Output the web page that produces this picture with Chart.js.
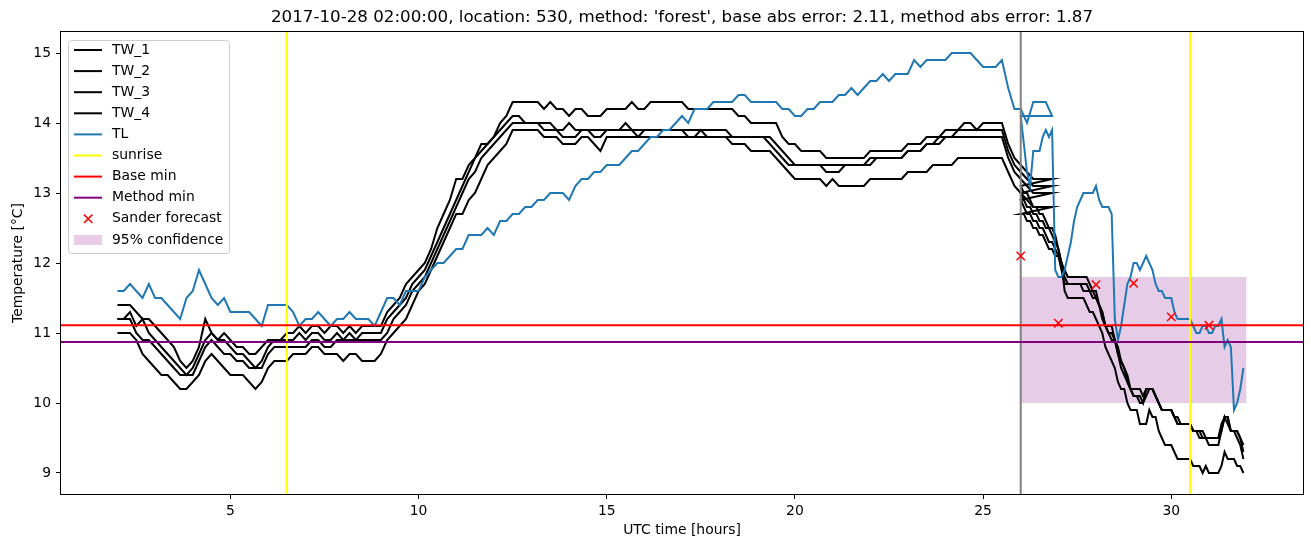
<!DOCTYPE html>
<html>
<head>
<meta charset="utf-8">
<script src="https://cdn.jsdelivr.net/npm/chart.js@4.4.0/dist/chart.umd.min.js"></script>
<style>
  html, body { margin: 0; padding: 0; background: #fff; }
  #wrap { width: 1311px; height: 547px; }
</style>
</head>
<body>
<div id="wrap"><canvas id="grafica" width="1311" height="547"></canvas></div>
<script>
const titleText = "2017-10-28 02:00:00, location: 530, method: 'forest', base abs error: 2.11, method abs error: 1.87";

const xTicks = [5, 10, 15, 20, 25, 30];
const yTicks = [9, 10, 11, 12, 13, 14, 15];
const xRange = [0.5, 33.5];
const yRange = [8.7, 15.3];

// first pass 02:00 .. 26:50 every 10 min, second pass (repeated hour) 26:00 .. 31:55 every 5 min
const firstStart = 2, firstStep = 1 / 6;
const secondStart = 26, secondStep = 1 / 12;

const tlA = [
  11.6, 11.6, 11.7, 11.6, 11.5, 11.7, 11.5, 11.5, 11.4, 11.3,
  11.2, 11.5, 11.6, 11.9, 11.7, 11.5, 11.4, 11.5, 11.3, 11.3,
  11.3, 11.3, 11.2, 11.1, 11.4, 11.4, 11.4, 11.4, 11.3, 11.1,
  11.2, 11.2, 11.3, 11.2, 11.1, 11.2, 11.2, 11.3, 11.2, 11.2,
  11.2, 11.1, 11.3, 11.5, 11.5, 11.4, 11.6, 11.6, 11.6, 11.8,
  11.9, 12.0, 12.0, 12.1, 12.2, 12.2, 12.4, 12.4, 12.4, 12.5,
  12.4, 12.6, 12.6, 12.7, 12.7, 12.8, 12.8, 12.9, 12.9, 13.0,
  13.0, 13.0, 12.9, 13.1, 13.2, 13.2, 13.3, 13.3, 13.4, 13.4,
  13.4, 13.5, 13.6, 13.6, 13.7, 13.8, 13.8, 13.9, 13.9, 14.0,
  14.1, 14.0, 14.2, 14.2, 14.2, 14.3, 14.3, 14.3, 14.3, 14.4,
  14.4, 14.3, 14.3, 14.3, 14.3, 14.3, 14.2, 14.2, 14.1, 14.1,
  14.2, 14.2, 14.3, 14.3, 14.3, 14.4, 14.4, 14.5, 14.4, 14.5,
  14.6, 14.6, 14.7, 14.6, 14.7, 14.7, 14.7, 14.9, 14.8, 14.9,
  14.9, 14.9, 14.9, 15.0, 15.0, 15.0, 15.0, 14.9, 14.8, 14.8,
  14.8, 14.9, 14.5, 14.2, 14.2, 14.0, 14.3, 14.3, 14.3, 14.1
];
const tlB = [
  14.1, 13.7, 13.3, 13.1, 13.6, 13.6, 13.6, 13.8, 13.9, 13.8, 13.9, 11.9,
  11.8, 11.8, 11.9, 12.1, 12.3, 12.6, 12.8, 12.9, 13.0, 13.0, 13.0, 13.0,
  13.1, 12.9, 12.8, 12.8, 12.8, 12.7, 11.2, 10.9, 11.1, 11.4, 11.7, 11.8,
  12.0, 12.0, 11.9, 12.0, 12.1, 12.0, 11.9, 11.7, 11.6, 11.6, 11.5, 11.5,
  11.5, 11.3, 11.2, 11.2, 11.2, 11.2, 11.2, 11.1, 11.0, 11.0, 11.1, 11.1,
  11.0, 11.0, 11.1, 11.1, 11.2, 10.8, 10.9, 10.8, 9.9, 10.0, 10.2, 10.5
];

const tw1A = [
  11.4, 11.4, 11.4, 11.3, 11.2, 11.2, 11.1, 11.0, 10.9, 10.8,
  10.6, 10.5, 10.6, 10.8, 11.2, 11.0, 10.9, 11.0, 10.9, 10.8,
  10.8, 10.7, 10.7, 10.8, 10.9, 10.9, 10.9, 11.0, 11.0, 11.1,
  11.0, 11.1, 11.1, 11.0, 11.1, 11.1, 11.0, 11.1, 11.0, 11.1,
  11.1, 11.1, 11.1, 11.3, 11.4, 11.5, 11.7, 11.8, 11.9, 12.0,
  12.2, 12.5, 12.7, 12.9, 13.2, 13.2, 13.4, 13.5, 13.7, 13.7,
  13.8, 14.0, 14.1, 14.3, 14.3, 14.3, 14.3, 14.3, 14.2, 14.3,
  14.2, 14.2, 14.1, 14.2, 14.2, 14.1, 14.1, 14.1, 14.2, 14.2,
  14.2, 14.2, 14.3, 14.2, 14.2, 14.3, 14.3, 14.3, 14.3, 14.3,
  14.3, 14.2, 14.2, 14.2, 14.2, 14.2, 14.2, 14.2, 14.2, 14.1,
  14.1, 14.0, 14.0, 14.0, 14.0, 14.0, 13.8, 13.7, 13.7, 13.6,
  13.6, 13.6, 13.6, 13.5, 13.5, 13.5, 13.5, 13.5, 13.5, 13.5,
  13.6, 13.6, 13.6, 13.6, 13.6, 13.6, 13.7, 13.7, 13.7, 13.8,
  13.8, 13.8, 13.9, 13.9, 13.9, 14.0, 14.0, 13.9, 14.0, 14.0,
  14.0, 14.0, 13.7, 13.5, 13.4, 13.3, 13.2, 13.2, 13.2, 13.2
];
const tw2A = [
  11.2, 11.2, 11.3, 11.1, 11.2, 11.0, 10.9, 10.8, 10.7, 10.6,
  10.5, 10.4, 10.5, 10.7, 10.9, 11.0, 10.9, 10.9, 10.8, 10.7,
  10.7, 10.6, 10.5, 10.6, 10.8, 10.9, 10.9, 10.9, 10.9, 11.0,
  10.9, 11.0, 11.0, 10.9, 10.9, 11.0, 10.9, 11.0, 10.9, 11.0,
  11.0, 11.0, 11.0, 11.2, 11.3, 11.4, 11.5, 11.7, 11.8, 11.9,
  12.1, 12.3, 12.5, 12.7, 12.9, 13.1, 13.3, 13.5, 13.6, 13.7,
  13.8, 13.9, 14.0, 14.1, 14.1, 14.0, 14.0, 14.0, 14.0, 14.0,
  13.9, 13.9, 14.0, 13.9, 13.9, 13.9, 13.9, 13.9, 13.9, 13.9,
  13.9, 14.0, 13.9, 13.9, 13.9, 13.9, 13.9, 13.9, 13.9, 13.9,
  13.9, 13.9, 13.9, 13.9, 13.9, 13.9, 13.9, 13.9, 13.8, 13.8,
  13.8, 13.8, 13.8, 13.8, 13.8, 13.7, 13.6, 13.5, 13.4, 13.4,
  13.4, 13.4, 13.4, 13.4, 13.4, 13.4, 13.4, 13.4, 13.4, 13.4,
  13.5, 13.5, 13.5, 13.5, 13.5, 13.5, 13.6, 13.6, 13.6, 13.7,
  13.7, 13.8, 13.8, 13.8, 13.9, 13.9, 13.9, 13.9, 13.9, 13.9,
  13.9, 13.9, 13.6, 13.4, 13.3, 13.2, 13.1, 13.1, 13.1, 13.1
];
const tw3A = [
  11.2, 11.2, 11.2, 11.0, 10.9, 10.9, 10.8, 10.7, 10.6, 10.5,
  10.4, 10.4, 10.4, 10.6, 10.8, 10.9, 10.8, 10.7, 10.7, 10.6,
  10.6, 10.5, 10.5, 10.5, 10.7, 10.8, 10.8, 10.8, 10.8, 10.8,
  10.8, 10.9, 10.9, 10.8, 10.8, 10.9, 10.9, 10.9, 10.9, 10.9,
  10.9, 10.9, 10.9, 11.0, 11.2, 11.3, 11.4, 11.6, 11.7, 11.8,
  12.0, 12.2, 12.4, 12.6, 12.8, 13.0, 13.2, 13.3, 13.5, 13.6,
  13.7, 13.8, 13.9, 14.0, 14.0, 14.0, 14.0, 14.0, 13.9, 13.9,
  13.9, 13.8, 13.8, 13.8, 13.9, 13.9, 13.8, 13.8, 13.9, 13.9,
  13.9, 13.9, 13.9, 13.8, 13.9, 13.9, 13.9, 13.9, 13.9, 13.9,
  13.9, 13.8, 13.8, 13.9, 13.8, 13.8, 13.8, 13.8, 13.8, 13.8,
  13.8, 13.8, 13.8, 13.8, 13.7, 13.6, 13.5, 13.4, 13.4, 13.4,
  13.4, 13.4, 13.4, 13.3, 13.3, 13.3, 13.4, 13.4, 13.4, 13.4,
  13.4, 13.5, 13.5, 13.5, 13.5, 13.5, 13.6, 13.6, 13.6, 13.7,
  13.7, 13.7, 13.8, 13.8, 13.8, 13.8, 13.8, 13.8, 13.8, 13.8,
  13.8, 13.8, 13.5, 13.3, 13.2, 13.1, 13.0, 13.0, 13.0, 13.0
];
const tw4A = [
  11.0, 11.0, 11.0, 10.9, 10.7, 10.6, 10.5, 10.4, 10.4, 10.3,
  10.2, 10.2, 10.3, 10.4, 10.6, 10.7, 10.6, 10.5, 10.4, 10.4,
  10.4, 10.3, 10.2, 10.3, 10.5, 10.6, 10.6, 10.6, 10.7, 10.7,
  10.7, 10.8, 10.8, 10.7, 10.7, 10.7, 10.6, 10.7, 10.7, 10.6,
  10.6, 10.6, 10.7, 10.9, 11.0, 11.1, 11.2, 11.4, 11.6, 11.7,
  11.9, 12.1, 12.3, 12.5, 12.7, 12.7, 12.9, 13.0, 13.2, 13.4,
  13.5, 13.6, 13.7, 13.9, 13.9, 13.9, 13.9, 13.9, 13.8, 13.8,
  13.8, 13.7, 13.7, 13.7, 13.8, 13.8, 13.7, 13.6, 13.8, 13.8,
  13.8, 13.8, 13.8, 13.8, 13.8, 13.8, 13.8, 13.8, 13.8, 13.8,
  13.8, 13.8, 13.8, 13.8, 13.8, 13.8, 13.8, 13.8, 13.7, 13.7,
  13.7, 13.6, 13.6, 13.6, 13.6, 13.5, 13.4, 13.3, 13.2, 13.2,
  13.2, 13.2, 13.2, 13.1, 13.2, 13.1, 13.1, 13.1, 13.1, 13.1,
  13.2, 13.2, 13.2, 13.2, 13.2, 13.2, 13.3, 13.3, 13.3, 13.3,
  13.4, 13.4, 13.4, 13.4, 13.5, 13.5, 13.5, 13.5, 13.5, 13.5,
  13.5, 13.5, 13.3, 13.1, 13.0, 12.9, 12.8, 12.8, 12.8, 12.8
];

const tw1B = [
  13.1, 13.0, 13.0, 12.9, 12.8, 12.8, 12.7, 12.7, 12.6, 12.5, 12.5, 12.4,
  12.2, 12.0, 11.9, 11.8, 11.8, 11.8, 11.8, 11.8, 11.8, 11.8, 11.7, 11.6,
  11.6, 11.4, 11.3, 11.1, 11.1, 11.1, 10.9, 10.8, 10.6, 10.5, 10.4, 10.2,
  10.2, 10.2, 10.2, 10.1, 10.2, 10.2, 10.2, 10.1, 10.0, 9.9, 9.9, 9.9,
  9.9, 9.8, 9.8, 9.7, 9.7, 9.7, 9.7, 9.6, 9.6, 9.6, 9.6, 9.5,
  9.5, 9.5, 9.5, 9.5, 9.7, 9.8, 9.8, 9.6, 9.6, 9.6, 9.5, 9.4
];
const tw2B = [
  13.0, 12.9, 12.8, 12.8, 12.7, 12.7, 12.6, 12.6, 12.5, 12.5, 12.4, 12.3,
  12.2, 12.0, 11.8, 11.7, 11.7, 11.7, 11.7, 11.7, 11.7, 11.7, 11.6, 11.6,
  11.5, 11.4, 11.3, 11.1, 11.0, 11.0, 10.9, 10.7, 10.6, 10.5, 10.3, 10.2,
  10.1, 10.1, 10.1, 10.0, 10.2, 10.2, 10.2, 10.1, 10.0, 9.9, 9.9, 9.9,
  9.9, 9.8, 9.7, 9.7, 9.7, 9.7, 9.7, 9.6, 9.6, 9.6, 9.5, 9.5,
  9.5, 9.5, 9.5, 9.5, 9.6, 9.8, 9.8, 9.6, 9.6, 9.6, 9.5, 9.3
];
const tw3B = [
  12.9, 12.8, 12.7, 12.7, 12.6, 12.6, 12.5, 12.5, 12.4, 12.3, 12.3, 12.2,
  12.1, 11.9, 11.7, 11.7, 11.7, 11.7, 11.7, 11.7, 11.6, 11.6, 11.6, 11.5,
  11.5, 11.4, 11.2, 11.1, 11.0, 10.9, 10.9, 10.7, 10.5, 10.4, 10.3, 10.2,
  10.1, 10.1, 10.0, 10.0, 10.1, 10.2, 10.2, 10.1, 10.0, 9.9, 9.9, 9.9,
  9.9, 9.8, 9.7, 9.7, 9.7, 9.7, 9.7, 9.6, 9.6, 9.5, 9.5, 9.5,
  9.4, 9.4, 9.4, 9.4, 9.6, 9.8, 9.7, 9.6, 9.6, 9.5, 9.4, 9.2
];
const tw4B = [
  12.7, 12.7, 12.6, 12.6, 12.5, 12.5, 12.4, 12.4, 12.3, 12.2, 12.2, 12.1,
  12.1, 12.0, 11.6, 11.5, 11.5, 11.5, 11.5, 11.5, 11.5, 11.4, 11.3, 11.3,
  11.2, 11.1, 11.0, 10.8, 10.7, 10.6, 10.5, 10.3, 10.2, 10.2, 10.0, 9.9,
  9.9, 9.9, 9.7, 9.7, 9.7, 9.9, 9.8, 9.8, 9.6, 9.5, 9.4, 9.4,
  9.4, 9.3, 9.2, 9.2, 9.2, 9.2, 9.2, 9.1, 9.1, 9.1, 9.0, 9.1,
  9.0, 9.0, 9.0, 9.0, 9.1, 9.3, 9.2, 9.2, 9.2, 9.1, 9.1, 9.0
];

const sunriseHours = [6.5, 30.5];
const forecastHour = 26;
const baseMin = 11.11;
const methodMin = 10.87;
const sanderHours = [26, 27, 28, 29, 30, 31];
const sanderValues = [12.1, 11.14, 11.69, 11.71, 11.23, 11.11];
const confHours = [26, 32];
const confLow = 10.0;
const confHigh = 11.8;

Chart.defaults.font.family = "'DejaVu Sans', sans-serif";
Chart.defaults.color = '#000';

function timeline(values, start, step) {
  return values.map((v, i) => ({ x: start + i * step, y: v }));
}
function twoPass(first, second) {
  return timeline(first, firstStart, firstStep).concat(timeline(second, secondStart, secondStep));
}
function lineStyle(color) {
  return { type: 'line', borderColor: color, backgroundColor: color, borderWidth: 2,
           pointRadius: 0, pointHoverRadius: 0, fill: false, tension: 0 };
}
function vline(x) { return [{ x: x, y: yRange[0] }, { x: x, y: yRange[1] }]; }
function hline(y) { return [{ x: xRange[0], y: y }, { x: xRange[1], y: y }]; }

const datasets = [
  { label: 'TW_1', data: twoPass(tw1A, tw1B), ...lineStyle('#000000') },
  { label: 'TW_2', data: twoPass(tw2A, tw2B), ...lineStyle('#000000') },
  { label: 'TW_3', data: twoPass(tw3A, tw3B), ...lineStyle('#000000') },
  { label: 'TW_4', data: twoPass(tw4A, tw4B), ...lineStyle('#000000') },
  { label: 'TL', data: twoPass(tlA, tlB), ...lineStyle('#1f77b4') },
  { label: 'forecast', data: vline(forecastHour), ...lineStyle('#808080') },
  { label: 'sunrise', data: vline(sunriseHours[0]), ...lineStyle('#ffff00') },
  { label: 'sunrise2', data: vline(sunriseHours[1]), ...lineStyle('#ffff00') },
  { label: 'Base min', data: hline(baseMin), ...lineStyle('#ff0000') },
  { label: 'Method min', data: hline(methodMin), ...lineStyle('#800080') },
  { label: 'Sander forecast', type: 'scatter', showLine: false,
    data: sanderHours.map((h, i) => ({ x: h, y: sanderValues[i] })),
    pointStyle: 'crossRot', pointRadius: 5.9, pointHoverRadius: 5.9,
    borderColor: '#ff0000', backgroundColor: '#ff0000', borderWidth: 1.5 },
];
datasets.forEach((d, i) => { d.order = datasets.length - i; });
datasets.push({ label: '95% confidence', type: 'line', order: 100,
  data: confHours.map(h => ({ x: h, y: confHigh })),
  borderColor: 'rgba(0,0,0,0)', borderWidth: 1, pointRadius: 0,
  backgroundColor: 'rgba(128,0,128,0.2)', fill: { value: confLow } });

const legendItems = [
  { label: 'TW_1', kind: 'line', color: '#000000' },
  { label: 'TW_2', kind: 'line', color: '#000000' },
  { label: 'TW_3', kind: 'line', color: '#000000' },
  { label: 'TW_4', kind: 'line', color: '#000000' },
  { label: 'TL', kind: 'line', color: '#1f77b4' },
  { label: 'sunrise', kind: 'line', color: '#ffff00' },
  { label: 'Base min', kind: 'line', color: '#ff0000' },
  { label: 'Method min', kind: 'line', color: '#800080' },
  { label: 'Sander forecast', kind: 'x', color: '#ff0000' },
  { label: '95% confidence', kind: 'patch', color: 'rgba(128,0,128,0.2)' }
];

const decor = {
  id: 'decor',
  afterDraw(chart) {
    const { ctx, chartArea: a } = chart;
    ctx.save();
    // axes frame
    ctx.strokeStyle = '#000';
    ctx.lineWidth = 1;
    ctx.strokeRect(Math.round(a.left) - 0.5, Math.round(a.top) - 0.5,
                   Math.round(a.right - a.left) + 1, Math.round(a.bottom - a.top) + 1);

    // title and axis labels
    const cx = (a.left + a.right) / 2;
    ctx.fillStyle = '#000';
    ctx.textAlign = 'center';
    ctx.textBaseline = 'middle';
    ctx.font = "16.7px 'DejaVu Sans'";
    ctx.fillText(titleText, cx, 18);
    ctx.font = "13.9px 'DejaVu Sans'";
    ctx.fillText('UTC time [hours]', cx, 530);
    ctx.save();
    ctx.translate(18, (a.top + a.bottom) / 2);
    ctx.rotate(-Math.PI / 2);
    ctx.fillText('Temperature [°C]', 0, 0);
    ctx.restore();

    // legend
    const lx = 68, ly = 40, lw = 161, lh = 213;
    ctx.beginPath();
    ctx.roundRect(lx + 0.5, ly + 0.5, lw, lh, 3);
    ctx.fillStyle = 'rgba(255,255,255,0.8)';
    ctx.fill();
    ctx.strokeStyle = '#cccccc';
    ctx.stroke();
    ctx.textAlign = 'left';
    ctx.font = "13.9px 'DejaVu Sans'";
    legendItems.forEach((it, i) => {
      const cy = 50 + i * 21.1;
      if (it.kind === 'line') {
        ctx.strokeStyle = it.color;
        ctx.lineWidth = 2;
        ctx.beginPath();
        ctx.moveTo(74, cy);
        ctx.lineTo(102, cy);
        ctx.stroke();
      } else if (it.kind === 'x') {
        ctx.strokeStyle = it.color;
        ctx.lineWidth = 1.5;
        ctx.beginPath();
        ctx.moveTo(84, cy - 4.2); ctx.lineTo(92.4, cy + 4.2);
        ctx.moveTo(92.4, cy - 4.2); ctx.lineTo(84, cy + 4.2);
        ctx.stroke();
      } else {
        ctx.fillStyle = it.color;
        ctx.fillRect(74, cy - 5, 28, 10);
      }
      ctx.fillStyle = '#000';
      ctx.fillText(it.label, 112, cy);
    });
    ctx.restore();
  }
};

const tickFont = { size: 13.9, family: "'DejaVu Sans'" };

new Chart(document.querySelector('#grafica'), {
  type: 'line',
  data: { datasets: datasets },
  options: {
    responsive: false,
    devicePixelRatio: 1,
    animation: false,
    events: [],
    layout: { padding: { top: 32, right: 8, left: 0, bottom: 0 } },
    plugins: {
      legend: { display: false },
      tooltip: { enabled: false },
      title: { display: false }
    },
    scales: {
      x: {
        type: 'linear',
        min: xRange[0],
        max: xRange[1],
        afterBuildTicks: s => { s.ticks = xTicks.map(v => ({ value: v })); },
        afterFit: s => { s.height = 53; },
        grid: { drawOnChartArea: false, drawTicks: true, tickLength: 5, tickColor: '#000', tickWidth: 1 },
        border: { display: false },
        ticks: { color: '#000', font: tickFont, padding: 4, maxRotation: 0, autoSkip: false }
      },
      y: {
        type: 'linear',
        min: yRange[0],
        max: yRange[1],
        afterBuildTicks: s => { s.ticks = yTicks.map(v => ({ value: v })); },
        afterFit: s => { s.width = 61; },
        grid: { drawOnChartArea: false, drawTicks: true, tickLength: 5, tickColor: '#000', tickWidth: 1 },
        border: { display: false },
        ticks: { color: '#000', font: tickFont, padding: 5, autoSkip: false }
      }
    }
  },
  plugins: [decor]
});
</script>
</body>
</html>
